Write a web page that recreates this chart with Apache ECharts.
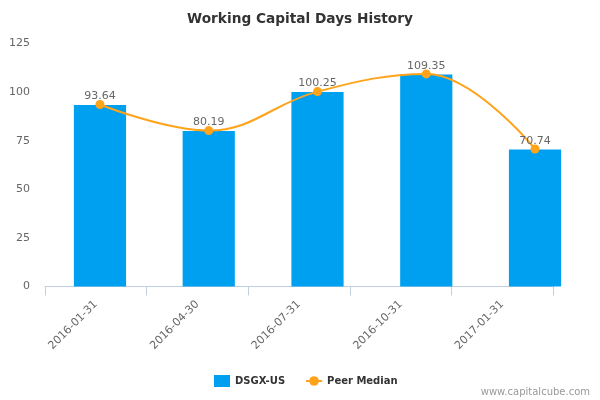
<!DOCTYPE html>
<html><head><meta charset="utf-8">
<script src="https://cdn.jsdelivr.net/npm/echarts@6/dist/echarts.min.js"></script>
<style>html,body{margin:0;padding:0;background:#fff}#c{width:600px;height:400px}</style>
</head><body><div id="c"></div>
<script>
var categories = ['2016-01-31','2016-04-30','2016-07-31','2016-10-31','2017-01-31'];
var companyValues = [93.4, 80.0, 100.0, 109.0, 70.5];
var peerMedian = [93.64, 80.19, 100.25, 109.35, 70.74];
var yTicks = [0, 25, 50, 75, 100, 125];

var chart = echarts.init(document.getElementById('c'));
var yMin = yTicks[0], yMax = yTicks[yTicks.length-1];
chart.setOption({
  animation: false,
  title: {text: 'Working Capital Days History', left: 'center', top: 7,
    textStyle: {fontFamily: 'DejaVu Sans', fontSize: 13.7, fontWeight: 'bold', color: '#333'}},
  legend: {bottom: 8, left: 209, itemGap: 20, itemWidth: 16, itemHeight: 12,
    textStyle: {fontFamily: 'DejaVu Sans', fontSize: 10, fontWeight: 'bold', color: '#333'},
    data: [{name: 'DSGX-US', icon: 'rect'}, {name: 'Peer Median'}]},
  graphic: [{type: 'text', right: 10, bottom: 3,
    style: {text: 'www.capitalcube.com', fill: '#999', font: '10px DejaVu Sans'}}],
  grid: [
    {left: 45, right: 47, top: 43.5, bottom: 113.5},
    {left: 45.6, right: 10.6, top: 43.5, bottom: 113.5}
  ],
  xAxis: [
    {type: 'category', gridIndex: 0, data: categories,
      axisLine: {lineStyle: {color: '#c0d0e0'}},
      axisTick: {show: true, length: 9, lineStyle: {color: '#c0d0e0'}},
      axisLabel: {rotate: 45, color: '#666', fontFamily: 'DejaVu Sans', fontSize: 11, margin: 16}},
    {type: 'category', gridIndex: 1, data: categories, show: false}
  ],
  yAxis: [
    {type: 'value', gridIndex: 0, min: yMin, max: yMax, interval: 25,
      axisLine: {show: false}, axisTick: {show: false}, splitLine: {show: false},
      axisLabel: {color: '#666', fontFamily: 'DejaVu Sans', fontSize: 11, margin: 15}},
    {type: 'value', gridIndex: 1, min: yMin, max: yMax, interval: 25, show: false, splitLine: {show: false}}
  ],
  series: [
    {name: 'DSGX-US', type: 'bar', xAxisIndex: 1, yAxisIndex: 1, data: companyValues, barWidth: '48%',
      itemStyle: {color: '#00a0f0'}},
    {name: 'Peer Median', type: 'line', xAxisIndex: 1, yAxisIndex: 1, data: peerMedian, smooth: 0.4,
      symbol: 'circle', symbolSize: 9,
      lineStyle: {color: '#ffa31a', width: 2}, itemStyle: {color: '#ffa31a'},
      label: {show: true, position: 'top', distance: -2, color: '#666',
        fontFamily: 'DejaVu Sans', fontSize: 11, formatter: function(p){return p.value.toFixed(2);}}}
  ]
});
</script></body></html>
